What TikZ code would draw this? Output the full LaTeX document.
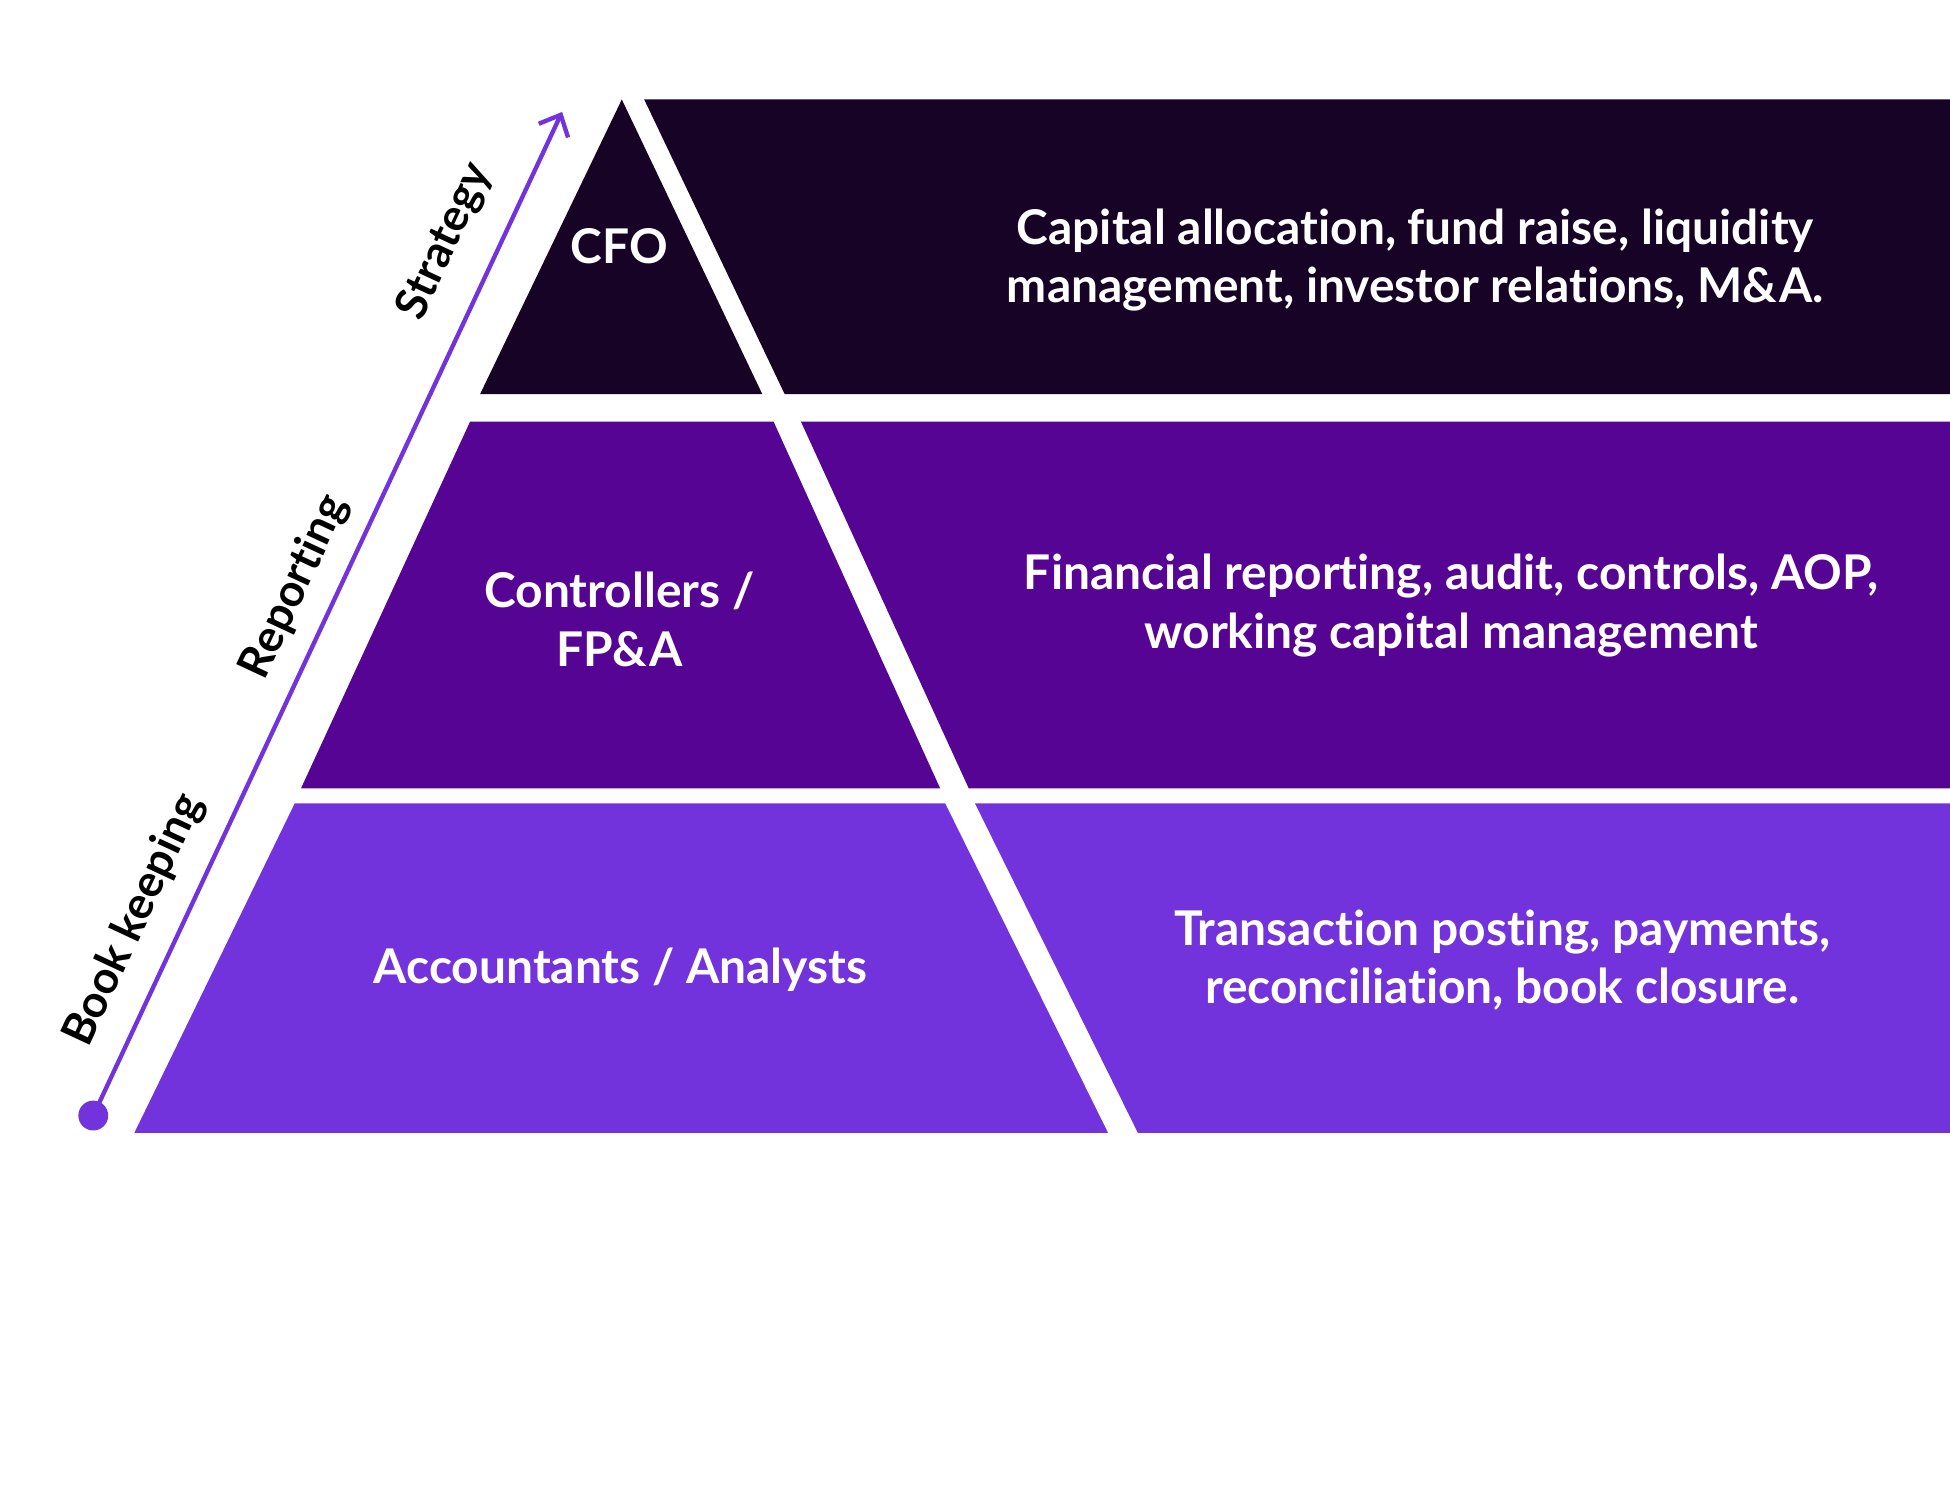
\documentclass[tikz,border=0pt]{standalone}
\usepackage{fontspec}
\setmainfont{Lato}[Ligatures=CommonOff]
\usetikzlibrary{arrows.meta}
\definecolor{cdark}{HTML}{170326}
\definecolor{cmid}{HTML}{560494}
\definecolor{clight}{HTML}{7233DC}
\tikzset{
  lbl/.style={text=white,font=\fontsize{38.5}{47}\selectfont\bfseries,align=center},
  side/.style={text=black,font=\fontsize{36}{40}\selectfont\bfseries,rotate=65,inner sep=0pt}
}
\begin{document}
\begin{tikzpicture}[x=1pt,y=-1pt]
\useasboundingbox (0,0) rectangle (1568,1214);
\fill[cdark] (500,80) -- (613,317) -- (386,317) -- cycle;
\fill[cdark] (518,80) -- (1568,80) -- (1568,317) -- (631,317) -- cycle;
\fill[cmid] (378,339) -- (622,339) -- (756,634) -- (242,634) -- cycle;
\fill[cmid] (644,339) -- (1568,339) -- (1568,634) -- (779,634) -- cycle;
\fill[clight] (237,646) -- (760,646) -- (891,911) -- (108,911) -- cycle;
\fill[clight] (784,646) -- (1568,646) -- (1568,911) -- (915,911) -- cycle;
\node[lbl] (cfo) at (498,198) {CFO};
\node[lbl] (ctrl) at (498,498) {Controllers /\\FP\&A};
\node[lbl] (acc) at (499,780) {Accountants / Analysts};
\node[lbl] (t1) at (1138,209) {Capital allocation, fund raise, liquidity\\management, investor relations, M\&A.};
\node[lbl] (t2) at (1167,487) {Financial reporting, audit, controls, AOP,\\working capital management};
\node[lbl] (t3) at (1208,772) {Transaction posting, payments,\\reconciliation, book closure.};
\fill[clight] (75,897) circle (12) coordinate (dot);
\coordinate (tip) at (452,90);
\draw[clight,line width=3.5,-{Straight Barb[length=14,width=26,line width=3.5]}] (dot) -- (tip);
\node[side] (bk) at (108,740) {Book keeping};
\node[side] (rp) at (237,472) {Reporting};
\node[side] (st) at (358,194) {Strategy};
\end{tikzpicture}
\end{document}
